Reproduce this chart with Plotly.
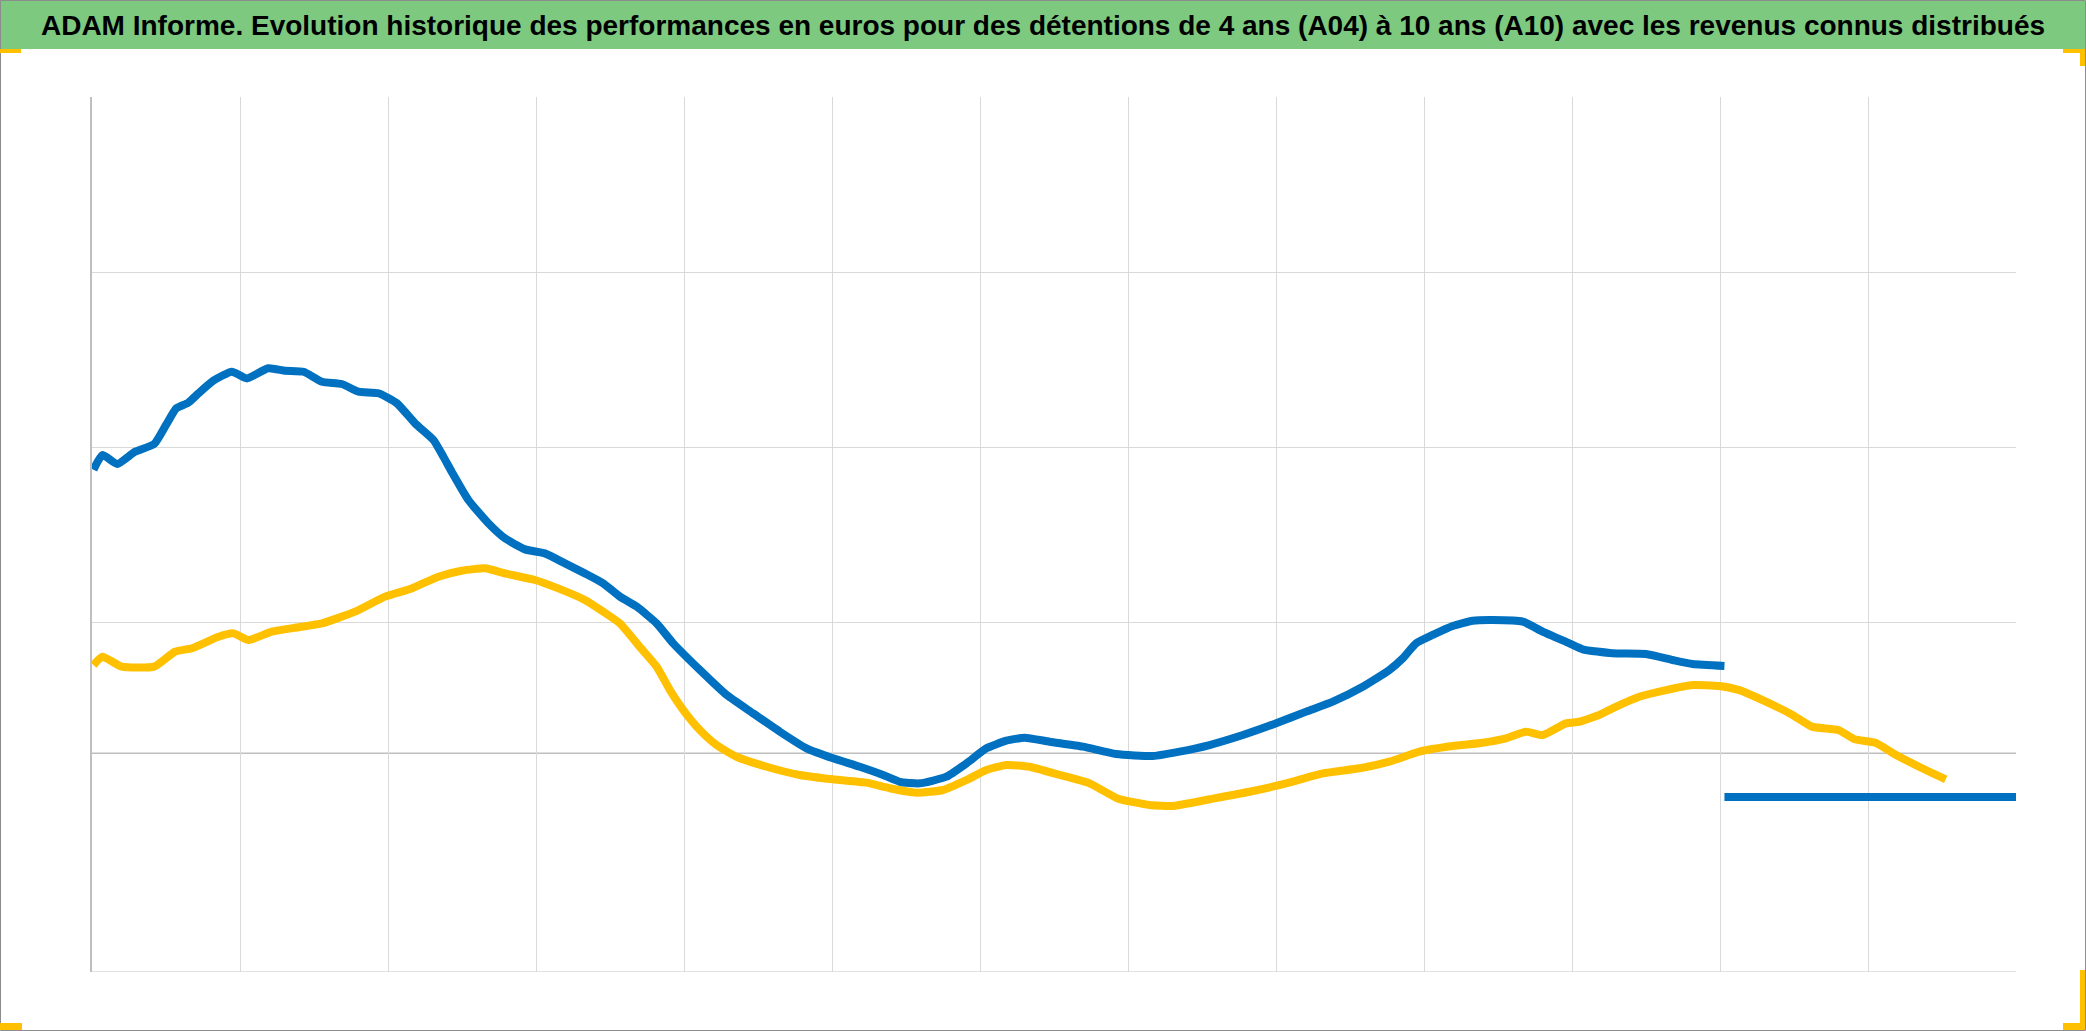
import plotly.graph_objects as go

# ---- data (x in grid-interval units, y in gridline units) ----
blue_x = [0.01, 0.07, 0.17, 0.29, 0.42, 0.50, 0.57, 0.65, 0.72, 0.82, 0.945, 1.047, 1.19, 1.305, 1.43,
          1.553, 1.688, 1.80, 1.935, 2.06, 2.183, 2.307, 2.374, 2.43, 2.543, 2.678, 2.79, 2.926, 3.06,
          3.196, 3.33, 3.454, 3.567, 3.68, 3.815, 3.927, 4.107, 4.288, 4.467, 4.648, 4.828, 5.007,
          5.188, 5.345, 5.458, 5.593, 5.773, 5.908, 6.043, 6.178, 6.302, 6.47, 6.695, 6.92, 7.168,
          7.348, 7.551, 7.776, 8.001, 8.204, 8.384, 8.586, 8.766, 8.856, 8.946, 9.059, 9.194, 9.329,
          9.464, 9.667, 9.802, 9.982, 10.072, 10.274, 10.5, 10.68, 10.815, 11.03,
          None, 11.03, 13.0]
blue_y = [2.87, 2.954, 2.903, 2.973, 3.017, 3.126, 3.221, 3.253, 3.307, 3.379, 3.43, 3.392, 3.45, 3.436, 3.43,
          3.373, 3.36, 3.316, 3.307, 3.25, 3.135, 3.04, 2.945, 2.859, 2.697, 2.564, 2.478, 2.415, 2.392,
          2.335, 2.278, 2.221, 2.145, 2.088, 1.992, 1.878, 1.726, 1.583, 1.478, 1.373, 1.278, 1.221,
          1.173, 1.126, 1.087, 1.078, 1.116, 1.192, 1.278, 1.322, 1.339, 1.316, 1.288, 1.246, 1.234,
          1.259, 1.297, 1.354, 1.421, 1.488, 1.545, 1.63, 1.726, 1.792, 1.878, 1.926, 1.977, 2.007,
          2.011, 2.002, 1.945, 1.878, 1.844, 1.821, 1.817, 1.783, 1.76, 1.749,
          None, 1.0, 1.0]

yellow_x = [0.01, 0.07, 0.20, 0.42, 0.56, 0.675, 0.855, 0.956, 1.057, 1.215, 1.395, 1.553, 1.778, 1.98,
            2.16, 2.34, 2.498, 2.656, 2.79, 2.993, 3.15, 3.33, 3.454, 3.567, 3.70, 3.815, 3.905, 3.995,
            4.107, 4.22, 4.355, 4.558, 4.783, 5.007, 5.233, 5.39, 5.57, 5.75, 5.908, 6.043, 6.178,
            6.335, 6.538, 6.74, 6.93, 7.146, 7.303, 7.551, 7.821, 8.069, 8.316, 8.564, 8.766, 8.969,
            9.194, 9.397, 9.554, 9.689, 9.802, 9.959, 10.05, 10.185, 10.274, 10.455, 10.635, 10.815,
            10.995, 11.13, 11.31, 11.49, 11.62, 11.8, 11.91, 12.05, 12.19, 12.345, 12.525,
            None, 12.53, 13.0]
yellow_y = [1.754, 1.802, 1.745, 1.745, 1.83, 1.85, 1.916, 1.935, 1.897, 1.945, 1.97, 1.992, 2.059, 2.145,
            2.192, 2.259, 2.293, 2.307, 2.278, 2.24, 2.192, 2.126, 2.059, 1.992, 1.859, 1.745, 1.611, 1.497,
            1.383, 1.297, 1.23, 1.173, 1.126, 1.101, 1.082, 1.05, 1.025, 1.04, 1.097, 1.154, 1.183,
            1.173, 1.126, 1.078, 0.992, 0.954, 0.949, 0.987, 1.03, 1.078, 1.135, 1.164, 1.202, 1.259,
            1.291, 1.31, 1.335, 1.373, 1.354, 1.421, 1.43, 1.469, 1.507, 1.573, 1.611, 1.64,
            1.634, 1.611, 1.545, 1.469, 1.402, 1.383, 1.33, 1.31, 1.24, 1.173, 1.101,
            None, 1.0, 1.0]

x_ticks = list(range(0, 13))
y_ticks = [0, 2, 3, 4, 5]
axis_cross = 1.25

TITLE = ("ADAM Informe. Evolution historique des performances en euros pour des détentions "
         "de 4 ans (A04) à 10 ans (A10) avec les revenus connus distribués")

W, H = 2086, 1031
L, R, T, B = 92, 70, 97, 59
PW, PH = W - L - R, H - T - B


def px(x):
    return (x - L) / PW


def py(y):
    return (H - B - y) / PH


fig = go.Figure()
fig.add_trace(go.Scatter(x=yellow_x, y=yellow_y, mode="lines", name="A10",
                         line=dict(color="#FFC000", width=8, shape="spline", smoothing=0.5),
                         connectgaps=False))
fig.add_trace(go.Scatter(x=blue_x, y=blue_y, mode="lines", name="A04",
                         line=dict(color="#0070C0", width=8, shape="spline", smoothing=0.5),
                         connectgaps=False))

shapes = []
# horizontal axis line
shapes.append(dict(type="line", xref="x", yref="y", x0=0, x1=13, y0=axis_cross, y1=axis_cross,
                   line=dict(color="#BFBFBF", width=1.5), layer="below"))
# bottom edge of plot area
shapes.append(dict(type="line", xref="x", yref="y", x0=0, x1=13, y0=0, y1=0,
                   line=dict(color="#D9D9D9", width=1.5), layer="below"))
# title band
shapes.append(dict(type="rect", xref="paper", yref="paper", x0=px(0), x1=px(2085), y0=py(49), y1=py(0),
                   fillcolor="#7DC97F", line=dict(width=0), layer="below"))
# outer border
shapes.append(dict(type="rect", xref="paper", yref="paper", x0=px(0.5), x1=px(2085.5), y0=py(1030.5),
                   y1=py(0.5), fillcolor="rgba(0,0,0,0)", line=dict(color="#8C8C8C", width=1)))
# yellow corner marks
for (x0, x1, y0, y1) in [(0, 21, 49, 53), (2063, 2085, 49, 53), (2080, 2085, 49, 66),
                         (0, 22, 1023, 1030), (2063, 2085, 1023, 1030), (2080, 2085, 970, 1030)]:
    shapes.append(dict(type="rect", xref="paper", yref="paper", x0=px(x0), x1=px(x1), y0=py(y1),
                       y1=py(y0), fillcolor="#FFC000", line=dict(width=0)))

fig.update_layout(
    width=W, height=H,
    margin=dict(l=L, r=R, t=T, b=B, pad=0),
    paper_bgcolor="white", plot_bgcolor="white",
    showlegend=False,
    shapes=shapes,
    title=dict(text="<b>" + TITLE + "</b>", x=0.5, xanchor="center", xref="container",
               y=1 - 25 / H, yanchor="middle", yref="container",
               font=dict(family="Liberation Sans, Arial, sans-serif", size=28, color="black")),
    xaxis=dict(range=[0, 13], tickvals=x_ticks, showticklabels=False, ticks="", showgrid=True,
               gridcolor="#D9D9D9", gridwidth=1.3, zeroline=False, showline=False, fixedrange=True),
    yaxis=dict(range=[0, 5], tickvals=y_ticks, showticklabels=False, ticks="", showgrid=True,
               gridcolor="#D9D9D9", gridwidth=1.3, zeroline=False, showline=True, linecolor="#BFBFBF",
               linewidth=1.5, fixedrange=True),
)

fig.write_html("out.html", config={"displayModeBar": False},
               post_script="document.body.style.margin='0';document.body.style.overflow='hidden';")
